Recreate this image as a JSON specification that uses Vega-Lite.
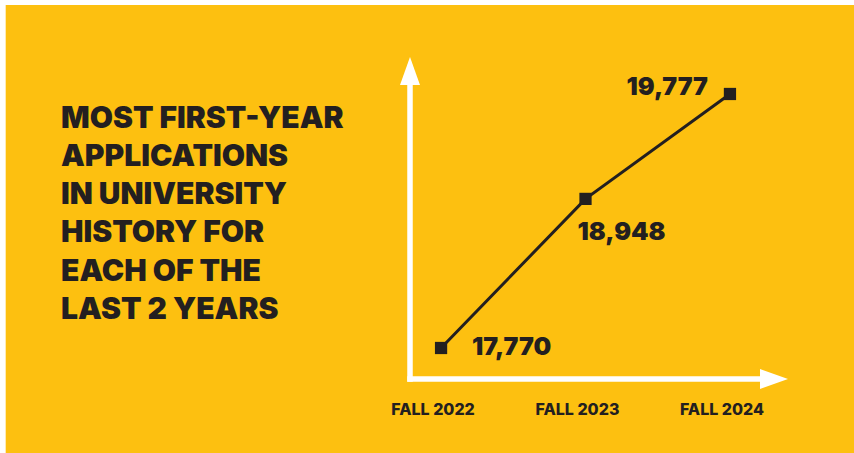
{
  "$schema": "https://vega.github.io/schema/vega-lite/v6.json",
  "autosize": {"type": "none"},
  "width": 350,
  "height": 294,
  "padding": {"left": 410, "top": 85, "right": 94, "bottom": 74},
  "background": "#FFFFFF",
  "config": {"view": {"stroke": null}},
  "title": {
    "text": ["MOST FIRST-YEAR", "APPLICATIONS", "IN UNIVERSITY", "HISTORY FOR", "EACH OF THE", "LAST 2 YEARS"],
    "anchor": "start",
    "frame": "group",
    "orient": "top",
    "font": "Inter",
    "fontSize": 30,
    "fontWeight": 900,
    "color": "#231F20",
    "lineHeight": 38.3,
    "offset": 0,
    "dx": -349,
    "dy": 320
  },
  "data": {
    "values": [
      {"term": "FALL 2022", "year": 2022, "applications": 17770},
      {"term": "FALL 2023", "year": 2023, "applications": 18948},
      {"term": "FALL 2024", "year": 2024, "applications": 19777}
    ]
  },
  "layer": [
    {
      "data": {"values": [{}]},
      "mark": {"type": "rect", "color": "#FDC010"},
      "encoding": {
        "x": {"datum": 2018.986, "type": "quantitative", "axis": null, "scale": {"domain": [2021.785, 2024.208], "nice": false, "zero": false}},
        "x2": {"datum": 2024.868},
        "y": {"datum": 20480, "type": "quantitative", "axis": null, "scale": {"domain": [17525, 19848], "nice": false, "zero": false}},
        "y2": {"datum": 16940}
      }
    },
    {
      "data": {"values": [{}]},
      "mark": {"type": "rule", "color": "#FFFFFF", "strokeWidth": 5.5, "strokeCap": "square"},
      "encoding": {
        "x": {"datum": 2021.785, "type": "quantitative", "axis": null},
        "y": {"datum": 17525, "type": "quantitative", "axis": null},
        "y2": {"datum": 19848}
      }
    },
    {
      "data": {"values": [{}]},
      "mark": {"type": "rule", "color": "#FFFFFF", "strokeWidth": 5.5, "strokeCap": "square"},
      "encoding": {
        "x": {"datum": 2021.785, "type": "quantitative", "axis": null},
        "x2": {"datum": 2024.208},
        "y": {"datum": 17525, "type": "quantitative", "axis": null}
      }
    },
    {
      "data": {"values": [{}]},
      "mark": {"type": "point", "shape": "M-0.714,0L0.714,0L0,-2Z", "size": 784, "filled": true, "color": "#FFFFFF", "opacity": 1, "strokeWidth": 0},
      "encoding": {
        "x": {"datum": 2021.785, "type": "quantitative", "axis": null},
        "y": {"datum": 19848, "type": "quantitative", "axis": null}
      }
    },
    {
      "data": {"values": [{}]},
      "mark": {"type": "point", "shape": "M0,-0.714L0,0.714L2,0Z", "size": 784, "filled": true, "color": "#FFFFFF", "opacity": 1, "strokeWidth": 0},
      "encoding": {
        "x": {"datum": 2024.208, "type": "quantitative", "axis": null},
        "y": {"datum": 17525, "type": "quantitative", "axis": null}
      }
    },
    {
      "mark": {"type": "line", "color": "#231F20", "strokeWidth": 3},
      "encoding": {
        "x": {"field": "year", "type": "quantitative", "axis": null},
        "y": {"field": "applications", "type": "quantitative", "axis": null}
      }
    },
    {
      "mark": {"type": "square", "color": "#231F20", "size": 150, "opacity": 1},
      "encoding": {
        "x": {"field": "year", "type": "quantitative", "axis": null},
        "y": {"field": "applications", "type": "quantitative", "axis": null}
      }
    },
    {
      "mark": {"type": "text", "align": "center", "baseline": "alphabetic", "dx": -8, "dy": 36, "font": "Inter", "fontSize": 16, "fontWeight": 800, "color": "#231F20"},
      "encoding": {
        "x": {"field": "year", "type": "quantitative", "axis": null},
        "y": {"datum": 17525, "type": "quantitative", "axis": null},
        "text": {"field": "term"}
      }
    },
    {
      "transform": [{"filter": "datum.year == 2022"}],
      "mark": {"type": "text", "align": "left", "baseline": "alphabetic", "dx": 31, "dy": 7, "font": "Inter", "fontSize": 25, "fontWeight": 900, "color": "#231F20"},
      "encoding": {
        "x": {"field": "year", "type": "quantitative", "axis": null},
        "y": {"field": "applications", "type": "quantitative", "axis": null},
        "text": {"field": "applications", "format": ","}
      }
    },
    {
      "transform": [{"filter": "datum.year == 2023"}],
      "mark": {"type": "text", "align": "left", "baseline": "alphabetic", "dx": -8, "dy": 41, "font": "Inter", "fontSize": 25, "fontWeight": 900, "color": "#231F20"},
      "encoding": {
        "x": {"field": "year", "type": "quantitative", "axis": null},
        "y": {"field": "applications", "type": "quantitative", "axis": null},
        "text": {"field": "applications", "format": ","}
      }
    },
    {
      "transform": [{"filter": "datum.year == 2024"}],
      "mark": {"type": "text", "align": "right", "baseline": "alphabetic", "dx": -22, "dy": 1, "font": "Inter", "fontSize": 25, "fontWeight": 900, "color": "#231F20"},
      "encoding": {
        "x": {"field": "year", "type": "quantitative", "axis": null},
        "y": {"field": "applications", "type": "quantitative", "axis": null},
        "text": {"field": "applications", "format": ","}
      }
    }
  ]
}
